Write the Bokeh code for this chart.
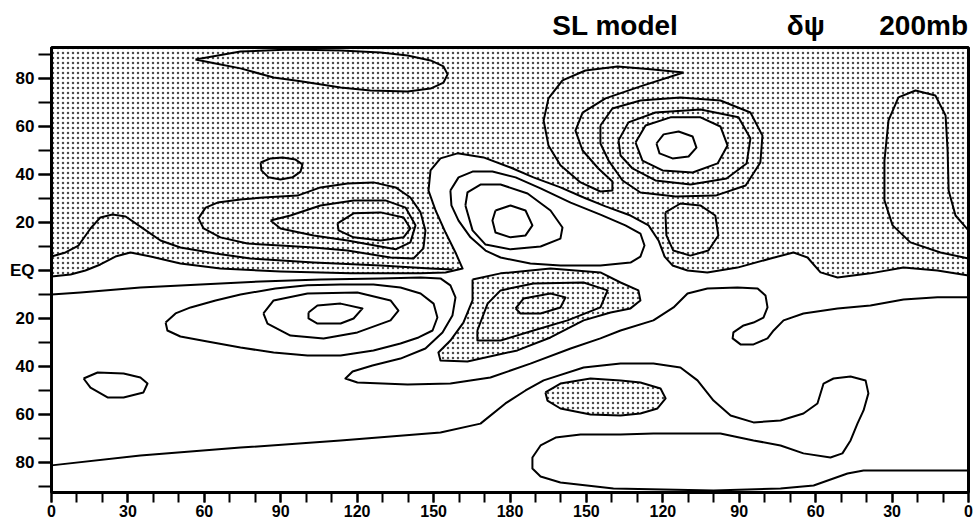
from bokeh.plotting import figure
from bokeh.models import FixedTicker
from bokeh.embed import file_html
from bokeh.resources import INLINE

# ---------------- axis ticks / labels ----------------
lon_ticks = [0, 30, 60, 90, 120, 150, 180, 210, 240, 270, 300, 330, 360]
lon_labels = ["0", "30", "60", "90", "120", "150", "180", "150", "120", "90", "60", "30", "0"]
lon_minor = list(range(0, 361, 10))
lat_ticks = [-80, -60, -40, -20, 0, 20, 40, 60, 80]
lat_labels = ["80", "60", "40", "20", "EQ", "20", "40", "60", "80"]
lat_minor = list(range(-90, 91, 10))
header_parts = ["SL model", "δψ", "200mb"]

# ---------------- contour lines (lon 0..360 east, lat) ----------------
A_lon = [56.5, 74.2, 93.8, 113.5, 129.2, 139.8, 148.8, 153.9, 155.5, 153.9, 148.8, 139.8, 125.2, 113.5, 97.8, 87.2, 74.2, 64.4]
A_lat = [87.9, 91.2, 92.1, 91.7, 90.8, 89.6, 87.5, 85.0, 81.7, 78.3, 75.8, 74.6, 75.0, 76.2, 78.8, 80.4, 84.2, 86.2]

B_lon = [82.1, 86.0, 90.7, 95.8, 98.5, 97.8, 94.6, 89.9, 85.2, 82.4]
B_lat = [45.0, 46.7, 47.1, 46.2, 44.2, 41.2, 38.8, 37.9, 38.8, 41.7]

C1_lon = [57.7, 60.5, 65.2, 74.2, 83.2, 96.6, 105.6, 116.2, 126.4, 135.1, 140.9, 144.9, 146.8, 146.0, 142.1, 133.1, 116.2, 102.9, 89.9, 76.9, 66.3, 59.7]
C1_lat = [21.7, 26.2, 28.3, 29.6, 30.4, 31.2, 34.6, 36.2, 36.7, 34.6, 30.4, 24.2, 16.7, 9.2, 5.0, 5.4, 8.3, 9.6, 10.4, 11.2, 13.8, 17.5]

C2_lon = [86.0, 93.8, 105.6, 118.6, 131.1, 139.0, 142.9, 140.9, 135.1, 116.2, 102.9, 89.9]
C2_lat = [20.8, 22.9, 27.1, 29.2, 29.2, 26.2, 18.8, 11.7, 8.8, 12.5, 14.6, 17.5]

C3_lon = [112.3, 118.6, 129.2, 138.2, 140.9, 138.2, 129.2, 118.6, 112.7]
C3_lat = [19.6, 23.8, 24.2, 22.1, 17.5, 13.8, 12.5, 13.8, 16.7]

W_lon = [0, 5.5, 10.6, 15.3, 19.2, 23.9, 29.1, 34.9, 42.8, 50.6, 64.4, 78.1, 102.9, 129.2, 148.8, 157.4]
W_lat = [5.8, 7.5, 10.4, 17.5, 22.1, 23.3, 22.5, 18.3, 12.5, 9.6, 7.1, 5.0, 3.3, 2.1, 0.8, 0.4]

Z_lon = [0, 7.5, 13.3, 19.2, 25.1, 31.0, 38.9, 50.6, 66.3, 89.9, 117.4, 144.9, 154.7, 161.4, 158.6, 154.7, 150.8, 148.0, 148.8, 152.7,
         159.4, 169.6, 180.2, 189.2, 199.8, 208.9, 217.5, 227.3, 234.4, 238.3, 240.7, 243.8, 249.7, 257.5, 269.3, 282.3, 291.3, 296.8, 301.9, 308.6,
         321.5, 334.5, 347.8, 360]
Z_lat = [-2.5, -1.7, 0, 2.5, 5.8, 7.5, 5.8, 2.9, 0.8, -0.4, -1.2, -1.2, -0.8, 0.8, 7.5, 15.8, 25.0, 33.3, 41.7, 46.7,
         48.8, 47.1, 42.9, 38.8, 34.6, 30.4, 26.7, 22.9, 18.8, 12.5, 5.8, 2.1, 0, -0.8, 1.2, 5.0, 7.5, 5.4, -0.8, -2.9,
         -1.2, 1.2, 0, -2.1]

H2_lon = [156.6, 159.8, 165.3, 173.1, 182.2, 192.0, 203.8, 215.5, 225.3, 231.2, 232.8, 231.2, 227.3, 215.5, 199.8, 188.0, 176.3, 170.4, 164.5, 159.8, 157.0]
H2_lat = [33.3, 38.8, 41.2, 41.2, 38.8, 34.2, 28.3, 23.3, 18.8, 15.4, 10.4, 5.8, 3.3, 2.1, 2.1, 2.9, 5.4, 8.3, 13.8, 20.8, 27.1]

H3_lon = [162.5, 163.3, 168.4, 176.3, 186.9, 195.9, 200.6, 199.8, 192.0, 180.2, 170.4, 165.3]
H3_lat = [27.1, 32.5, 35.8, 35.8, 32.1, 25.0, 17.9, 13.3, 10.0, 8.8, 10.8, 16.7]

H4_lon = [174.3, 180.2, 186.1, 188.8, 186.1, 180.2, 174.3, 173.1]
H4_lat = [25.0, 27.1, 25.0, 18.8, 14.6, 13.8, 15.8, 20.8]

E_lon = [241.0, 246.9, 254.7, 260.6, 261.8, 257.9, 250.8, 244.1, 241.4]
E_lat = [24.2, 27.9, 27.1, 22.9, 14.6, 8.3, 6.2, 8.3, 14.6]

T_lon = [248.1, 235.2, 222.2, 209.6, 200.6, 195.1, 193.2, 195.1, 199.8, 207.7, 215.5, 220.2, 220.2, 214.7, 208.5, 205.7, 208.5, 217.5, 231.2]
T_lat = [82.5, 83.8, 85.0, 83.3, 79.2, 71.7, 62.5, 52.1, 43.8, 36.7, 32.9, 33.3, 37.1, 42.5, 50.0, 58.3, 65.8, 71.7, 76.7]

L1_lon = [215.5, 220.2, 231.2, 246.9, 262.6, 274.4, 279.1, 278.3, 272.5, 260.7, 245.0, 231.2, 224.2, 218.7, 215.5]
L1_lat = [60.4, 67.5, 70.8, 72.1, 70.8, 65.8, 56.2, 45.0, 35.4, 31.2, 30.8, 32.5, 37.5, 45.8, 52.9]

L2_lon = [222.6, 226.5, 237.1, 254.8, 269.7, 274.4, 272.9, 265.0, 250.9, 237.1, 228.1, 223.4]
L2_lat = [54.2, 61.7, 65.8, 67.1, 63.8, 55.0, 44.6, 38.3, 35.8, 37.5, 42.5, 47.9]

L3_lon = [229.3, 233.2, 243.0, 254.8, 262.6, 265.4, 261.5, 251.7, 239.9, 232.0]
L3_lat = [53.3, 60.4, 63.8, 63.8, 60.0, 52.1, 44.6, 40.8, 41.7, 45.8]

L4_lon = [237.5, 240.3, 246.2, 251.7, 253.2, 250.1, 243.8, 238.7]
L4_lat = [52.9, 56.7, 57.9, 55.8, 51.2, 47.5, 46.7, 48.8]

F_lon = [360, 354.9, 352.2, 351.8, 351.0, 347.0, 339.2, 332.5, 328.6, 327.0, 327.0, 330.2, 337.2, 349.0, 360]
F_lat = [16.7, 22.9, 33.3, 50.0, 64.6, 72.9, 75.0, 72.1, 62.5, 45.8, 29.2, 18.8, 11.7, 7.5, 5.0]

S180o_lon = [165.3, 176.3, 195.9, 215.5, 223.4, 230.4, 231.2, 227.3, 219.5, 208.9, 195.9, 182.9, 163.3, 152.7, 151.9, 156.6, 161.7, 165.3]
S180o_lat = [-3.8, -1.2, 0.8, -0.8, -5.0, -8.3, -12.5, -15.8, -17.5, -20.8, -27.9, -33.3, -37.9, -37.5, -34.2, -29.2, -21.7, -12.5]

S180m_lon = [167.2, 171.2, 176.3, 189.2, 208.9, 218.3, 215.5, 202.6, 189.2, 176.3, 167.2]
S180m_lat = [-25.0, -13.8, -8.3, -5.4, -5.0, -8.3, -15.4, -20.8, -25.0, -29.2, -29.2]

S180i_lon = [182.2, 185.3, 195.9, 201.8, 199.8, 192.0, 184.1]
S180i_lat = [-15.8, -11.7, -9.6, -11.2, -15.4, -17.9, -17.9]

S110o_lon = [44.8, 48.7, 54.6, 64.4, 74.2, 87.9, 100.5, 113.5, 126.4, 137.0, 144.9, 150.0, 151.5, 149.6, 144.1, 137.0, 126.4, 113.5, 100.5, 87.2, 74.2, 61.2, 50.6, 45.5]
S110o_lat = [-21.7, -17.9, -15.4, -12.5, -10.0, -7.5, -6.2, -5.8, -5.8, -7.1, -9.6, -13.8, -19.6, -25.0, -27.9, -30.4, -33.3, -35.4, -35.4, -34.2, -32.1, -29.6, -27.5, -25.0]

S110m_lon = [83.2, 87.2, 100.5, 120.1, 133.1, 136.2, 133.1, 120.1, 106.8, 93.8, 84.8]
S110m_lat = [-17.9, -12.5, -9.6, -9.2, -12.5, -16.7, -20.8, -25.8, -28.3, -27.1, -22.1]

S110i_lon = [100.9, 104.4, 113.5, 122.1, 118.6, 113.5, 104.4, 100.9]
S110i_lat = [-17.5, -14.6, -13.8, -15.8, -20.0, -22.1, -22.1, -20.0]

P_lon = [0, 11.4, 34.9, 58.5, 82.1, 105.6, 129.2, 144.9, 152.7, 156.6, 158.6, 157.4, 153.5, 146.8, 137.0, 126.0, 118.2, 115.4, 120.1, 139.8,
         156.6, 172.3, 188.0, 203.8, 215.5, 223.4, 236.3, 244.2, 249.7, 257.5, 269.3, 277.2, 280.3, 281.1, 279.5, 275.6, 271.7, 267.7, 267.4, 270.5,
         275.6, 281.1, 283.5, 287.4, 295.2, 308.6, 321.5, 334.5, 347.8, 360]
P_lat = [-10.0, -9.2, -7.1, -5.8, -4.6, -3.8, -3.3, -2.9, -3.3, -6.2, -11.2, -18.8, -25.8, -32.5, -36.7, -39.6, -42.1, -45.0, -46.7, -47.5,
         -47.1, -44.6, -38.8, -32.5, -28.3, -25.0, -20.8, -15.4, -9.6, -7.5, -7.1, -7.5, -10.4, -15.4, -19.6, -21.7, -22.9, -25.8, -28.3, -30.8,
         -30.8, -28.3, -25.0, -20.8, -17.9, -15.8, -14.6, -12.1, -11.2, -11.2]

Q_lon = [0, 34.9, 74.2, 113.5, 152.7, 168.4, 178.2, 186.1, 193.2, 208.9, 223.4, 236.3, 246.9, 253.6, 259.9, 266.6, 275.6, 286.2, 295.2, 300.7,
         303.1, 307.0, 313.7, 319.6, 320.7, 318.8, 316.4, 313.7, 310.5, 305.8, 295.2, 286.2, 275.6, 262.6, 249.7, 236.3, 223.4, 207.7, 197.9, 192.0,
         188.8, 188.8, 192.0, 199.8, 220.6, 259.9, 286.2, 299.2, 312.5, 318.8, 341.2, 360]
Q_lat = [-81.2, -77.1, -73.8, -70.8, -67.5, -63.8, -55.4, -50.0, -45.8, -40.4, -38.8, -38.8, -40.4, -45.8, -54.2, -60.4, -63.3, -62.5, -59.6, -55.4,
         -47.1, -45.0, -44.2, -45.8, -51.2, -58.3, -63.8, -70.8, -76.2, -77.9, -76.2, -72.9, -70.8, -67.9, -67.9, -67.9, -68.3, -68.3, -69.6, -72.9,
         -77.9, -82.5, -85.8, -88.3, -90.8, -91.7, -90.8, -89.6, -84.6, -83.3, -83.3, -83.3]

Blob_lon = [193.9, 199.8, 211.6, 223.4, 231.2, 239.1, 241.1, 237.9, 231.2, 223.4, 211.6, 199.8, 194.7]
Blob_lat = [-50.8, -47.1, -45.0, -45.8, -46.7, -49.2, -53.3, -57.5, -59.6, -60.4, -60.0, -57.5, -54.2]

SW_lon = [12.6, 18.1, 28.3, 34.9, 37.7, 36.1, 28.3, 22.0, 15.3]
SW_lat = [-45.0, -42.5, -42.9, -44.6, -47.1, -50.8, -52.9, -52.9, -48.8]

# ---------------- figure ----------------
NB = "\u00a0"
p = figure(width=976, height=530, x_range=(0, 360), y_range=(-92.5, 92.9),
           output_backend="svg", toolbar_location=None,
           min_border_left=51, min_border_right=8, min_border_top=47, min_border_bottom=38,
           title=header_parts[0] + NB * 14 + header_parts[1] + NB * 7 + header_parts[2])
p.title.align = "right"
p.title.text_font = "Liberation Sans"
p.title.text_font_style = "bold"
p.title.text_font_size = "28px"
p.title.text_color = "black"
p.title.standoff = 13
p.xgrid.visible = False
p.ygrid.visible = False
p.background_fill_color = "white"
p.border_fill_color = "white"
p.outline_line_color = "black"
p.outline_line_width = 3

stip = dict(fill_color=None, line_color=None, hatch_pattern=".", hatch_scale=5,
            hatch_color="black", hatch_alpha=0.7)

north_x = [-5] + Z_lon + [365, 365, -5]
north_y = [Z_lat[0]] + Z_lat + [Z_lat[-1], 100, 100]
p.patch(north_x, north_y, **stip)
p.patch(L3_lon, L3_lat, fill_color="white", line_color=None)
p.patch(S180o_lon, S180o_lat, **stip)
p.patch(Blob_lon, Blob_lat, **stip)

closed = [(A_lon, A_lat), (B_lon, B_lat), (C1_lon, C1_lat), (C2_lon, C2_lat), (C3_lon, C3_lat),
          (H2_lon, H2_lat), (H3_lon, H3_lat), (H4_lon, H4_lat), (E_lon, E_lat), (T_lon, T_lat),
          (L1_lon, L1_lat), (L2_lon, L2_lat), (L3_lon, L3_lat), (L4_lon, L4_lat),
          (S180o_lon, S180o_lat), (S180m_lon, S180m_lat), (S180i_lon, S180i_lat),
          (S110o_lon, S110o_lat), (S110m_lon, S110m_lat), (S110i_lon, S110i_lat),
          (Blob_lon, Blob_lat), (SW_lon, SW_lat)]
opened = [(W_lon, W_lat), (Z_lon, Z_lat), (F_lon, F_lat), (P_lon, P_lat), (Q_lon, Q_lat)]

for xs, ys in closed:
    p.line(xs + xs[:1], ys + ys[:1], line_color="black", line_width=2, line_join="round")
for xs, ys in opened:
    p.line(xs, ys, line_color="black", line_width=2, line_join="round")

# ---------------- axes ----------------
p.xaxis.ticker = FixedTicker(ticks=lon_ticks, minor_ticks=lon_minor)
p.xaxis.major_label_overrides = {t: s for t, s in zip(lon_ticks, lon_labels)}
p.yaxis.ticker = FixedTicker(ticks=lat_ticks, minor_ticks=lat_minor)
p.yaxis.major_label_overrides = {t: s for t, s in zip(lat_ticks, lat_labels)}

for ax, out, size, stand in ((p.xaxis, 10, "16px", 2), (p.yaxis, 13, "17px", 4)):
    ax.major_tick_in = 0
    ax.minor_tick_in = 0
    ax.major_tick_out = out
    ax.minor_tick_out = out
    ax.major_tick_line_width = 2
    ax.minor_tick_line_width = 2
    ax.major_tick_line_color = "black"
    ax.minor_tick_line_color = "black"
    ax.axis_line_width = 3
    ax.axis_line_color = "black"
    ax.major_label_text_font = "Liberation Sans"
    ax.major_label_text_font_style = "bold"
    ax.major_label_text_font_size = size
    ax.major_label_text_color = "black"
    ax.major_label_standoff = stand

open("out.html", "w").write(file_html(p, INLINE))
